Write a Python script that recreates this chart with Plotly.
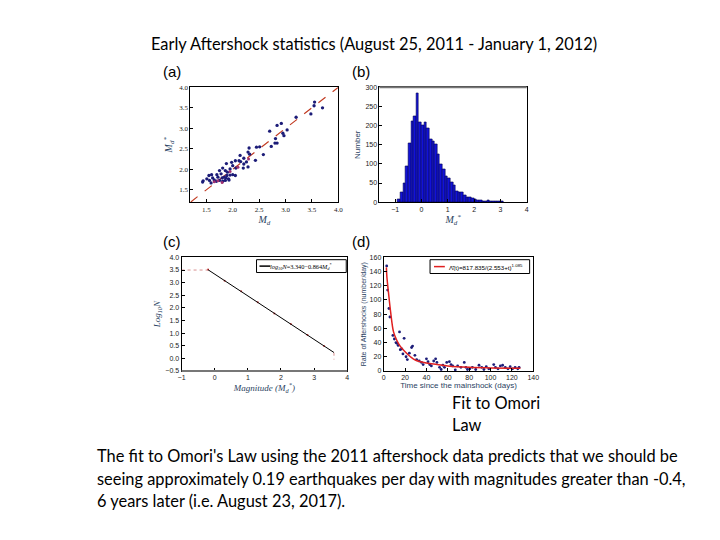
import plotly.graph_objects as go

# ---------------- data ----------------
# (a) Md vs Md*
a_md = [3.55, 3.54, 3.70, 3.48, 3.20, 2.84, 2.92, 3.03, 2.70, 2.95, 2.97, 2.81, 2.84, 2.80, 2.73, 2.45,
        2.51, 2.31, 2.29, 2.58, 2.43, 2.32, 2.14, 2.21, 2.12, 2.05, 2.15, 2.26, 2.21, 2.29, 2.20, 1.98,
        1.88, 2.00, 2.06, 1.95, 1.81, 1.86, 1.90, 1.75, 1.78, 1.70, 1.60, 1.62, 1.72, 1.80, 1.84, 1.89,
        1.95, 2.00, 2.05, 1.92, 1.86, 1.93, 1.75, 1.65, 1.56, 1.51, 1.44, 1.43, 1.59, 1.69, 1.55, 1.81, 1.87]
a_mds = [3.64, 3.55, 3.50, 3.35, 3.27, 3.07, 3.12, 2.96, 2.93, 2.88, 2.82, 2.75, 2.64, 2.64, 2.56, 2.54,
         2.55, 2.52, 2.42, 2.36, 2.22, 2.37, 2.34, 2.27, 2.21, 2.21, 2.19, 2.18, 2.13, 2.06, 2.03, 2.17,
         2.14, 2.09, 2.03, 2.01, 2.03, 1.97, 1.93, 1.97, 1.89, 1.87, 1.87, 1.79, 1.81, 1.79, 1.81, 1.85,
         1.86, 1.87, 1.85, 1.77, 1.73, 1.74, 1.73, 1.74, 1.73, 1.77, 1.72, 1.69, 1.67, 1.71, 1.85, 1.71, 1.79]
a_red_md = [1.65, 1.72, 1.95, 2.10, 2.30, 1.80]
a_red_mds = [1.70, 1.72, 1.95, 2.05, 2.25, 1.68]
a_diag = [1.2, 4.0]

# (b) histogram of Md*
b_bin_left = [-0.9, -0.8, -0.7, -0.6, -0.5, -0.4, -0.3, -0.2, -0.1, 0.0, 0.1, 0.2, 0.3, 0.4, 0.5, 0.6,
              0.7, 0.8, 0.9, 1.0, 1.1, 1.2, 1.3, 1.4, 1.5, 1.6, 1.7, 1.8, 1.9, 2.0, 2.1, 2.2, 2.3, 2.4,
              2.5, 2.6, 2.7, 2.8, 2.9, 3.0]
b_counts = [8, 25, 50, 93, 155, 210, 225, 285, 208, 200, 208, 192, 163, 160, 150, 125,
            100, 85, 68, 62, 53, 45, 28, 27, 27, 17, 12, 14, 9, 8, 6, 4, 3, 2,
            4, 3, 3, 2, 2, 1]

# (c) Gutenberg-Richter fit
c_fit_m = [-0.2, 3.6]
c_fit_logn = [3.51, 0.23]
c_obs_m = [-0.2, 0.3, 0.8, 1.3, 1.8, 2.3, 2.8, 3.3]
c_obs_logn = [3.52, 3.08, 2.66, 2.22, 1.78, 1.36, 0.92, 0.49]
c_dot1_m = [-1.0, -0.2]
c_dot1_logn = [3.5, 3.5]
c_dot2_m = [3.6, 3.6]
c_dot2_logn = [0.22, -0.05]

# (d) Omori law
d_t = [2.8, 3.7, 4.9, 5.8, 8.6, 10.0, 11.5, 12.3, 14.8, 19.1, 26.1, 16.9, 20.9, 22.1, 24.0, 29.2,
       30.8, 33.2, 35.4, 36.9, 40.0, 41.5, 43.1, 44.6, 46.8, 48.6, 49.8, 52.3, 53.8, 55.4, 56.9,
       59.0, 61.5, 63.0, 64.6, 67.0, 69.2, 72.3, 75.4, 76.9, 78.4, 80.6, 83.0, 86.1, 89.2, 91.7,
       93.8, 96.0, 98.4, 103.0, 104.6, 107.0, 109.2, 111.3, 113.8, 116.3, 118.4, 120.6, 123.0,
       125.5, 126.7, 13.5, 15.5, 18.0, 27.0]
d_rate = [148, 114, 88, 76, 50, 45, 40, 39, 55, 46, 33, 31, 20, 16, 25, 22,
          16, 14, 12, 9, 17, 13, 9, 7, 14, 17, 12, 5, 2, 8, 5,
          12, 13, 9, 7, 1.5, 7, 5, 12, 5, 2, 3, 5, 2, 8, 5,
          2, 6, 3, 9, 5, 3, 7, 8, 5, 3, 6, 3, 5,
          3, 5, 36, 30, 24, 35]
d_fit_t = [2.5, 3, 4.3, 6.5, 9.2, 12, 15.4, 20, 25, 30, 40, 50, 60, 80, 100, 128]
d_fit_rate = [146, 132, 113, 83, 55, 44, 35, 27, 20, 15, 11, 9, 7, 5, 4.2, 3.6]

# ---------------- figure ----------------
# the page body adds an 8px margin; the figure is sized/placed to compensate
OFF = 8
W, H = 720 - OFF, 540 - OFF


def P(px):
    return (px - OFF) / W


def Q(py):
    return 1 - (py - OFF) / H


navy = "#1c1c78"
fig = go.Figure()

fig.add_trace(go.Scatter(x=a_diag, y=a_diag, mode="lines", line=dict(color="#c23b22", dash="dash", width=1.2),
                         xaxis="x", yaxis="y", showlegend=False))
fig.add_trace(go.Scatter(x=a_md, y=a_mds, mode="markers", marker=dict(color=navy, size=3.3),
                         xaxis="x", yaxis="y", showlegend=False))
fig.add_trace(go.Scatter(x=a_red_md, y=a_red_mds, mode="markers", marker=dict(color="#a03070", size=3),
                         xaxis="x", yaxis="y", showlegend=False))

fig.add_trace(go.Bar(x=b_bin_left, y=b_counts, width=0.1, offset=0,
                     marker=dict(color="#1212d8", line=dict(color="#000050", width=0.6)),
                     xaxis="x2", yaxis="y2", showlegend=False))

fig.add_trace(go.Scatter(x=c_dot1_m, y=c_dot1_logn, mode="lines", line=dict(color="#d89090", dash="dot", width=1),
                         xaxis="x3", yaxis="y3", showlegend=False))
fig.add_trace(go.Scatter(x=c_dot2_m, y=c_dot2_logn, mode="lines", line=dict(color="#d89090", dash="dot", width=1),
                         xaxis="x3", yaxis="y3", showlegend=False))
fig.add_trace(go.Scatter(x=c_obs_m, y=c_obs_logn, mode="markers", marker=dict(color="#d04040", size=2),
                         xaxis="x3", yaxis="y3", showlegend=False))
fig.add_trace(go.Scatter(x=c_fit_m, y=c_fit_logn, mode="lines", line=dict(color="black", width=1),
                         xaxis="x3", yaxis="y3", showlegend=False))

fig.add_trace(go.Scatter(x=d_t, y=d_rate, mode="markers", marker=dict(color=navy, size=2.8),
                         xaxis="x4", yaxis="y4", showlegend=False))
fig.add_trace(go.Scatter(x=d_fit_t, y=d_fit_rate, mode="lines", line=dict(color="#e02020", width=1.5, shape="spline"),
                         xaxis="x4", yaxis="y4", showlegend=False))

tickfont = dict(size=7, color="#222", family="Liberation Sans")
serif_tick = dict(size=7, color="#222", family="Liberation Serif")
ax_common = dict(showline=True, mirror=True, linecolor="black", linewidth=1, ticks="inside", ticklen=3,
                 tickcolor="black", showgrid=False, zeroline=False)

fig.update_layout(
    width=W, height=H, margin=dict(l=0, r=0, t=0, b=0),
    paper_bgcolor="white", plot_bgcolor="white", bargap=0, showlegend=False,
    xaxis=dict(domain=[P(189), P(339)], anchor="y", range=[1.2, 4.0], tickvals=[1.5, 2.0, 2.5, 3.0, 3.5, 4.0],
               ticktext=["1.5", "2.0", "2.5", "3.0", "3.5", "4.0"], tickfont=serif_tick,
               title=dict(text="<i>M<sub>d</sub></i>", font=dict(size=10, family="Liberation Serif"), standoff=2), **ax_common),
    yaxis=dict(domain=[Q(200.7), Q(84.3)], anchor="x", range=[1.2, 4.0], tickvals=[1.5, 2.0, 2.5, 3.0, 3.5, 4.0],
               ticktext=["1.5", "2.0", "2.5", "3.0", "3.5", "4.0"], tickfont=serif_tick,
               title=dict(text="<i>M<sub>d</sub><sup>*</sup></i>", font=dict(size=10, family="Liberation Serif"), standoff=4), **ax_common),
    xaxis2=dict(domain=[P(380.7), P(530)], anchor="y2", range=[-1.6, 4.0], tickvals=[-1, 0, 1, 2, 3, 4], tickfont=tickfont,
                title=dict(text="<i>M<sub>d</sub><sup>*</sup></i>", font=dict(size=10, family="Liberation Serif"), standoff=2), **ax_common),
    yaxis2=dict(domain=[Q(200.7), Q(84.3)], anchor="x2", range=[0, 300], tickvals=[0, 50, 100, 150, 200, 250, 300], tickfont=tickfont,
                title=dict(text="Number", font=dict(size=8, family="Liberation Sans"), standoff=3), **ax_common),
    xaxis3=dict(domain=[P(180), P(348)], anchor="y3", range=[-1, 4], tickvals=[-1, 0, 1, 2, 3, 4], tickfont=tickfont,
                title=dict(text="<i>Magnitude (M<sub>d</sub><sup>*</sup>)</i>", font=dict(size=9, family="Liberation Serif"), standoff=2), **ax_common),
    yaxis3=dict(domain=[Q(371.7), Q(256.7)], anchor="x3", range=[-0.5, 4.0], dtick=0.5, tickformat=".1f", tickfont=tickfont,
                title=dict(text="<i>Log<sub>10</sub>N</i>", font=dict(size=9, family="Liberation Serif"), standoff=3), **ax_common),
    xaxis4=dict(domain=[P(385), P(536.7)], anchor="y4", range=[0, 140], dtick=20, tickfont=tickfont,
                title=dict(text="Time since the mainshock (days)", font=dict(size=8, family="Liberation Sans"), standoff=2), **ax_common),
    yaxis4=dict(domain=[Q(371.7), Q(256.7)], anchor="x4", range=[0, 160], dtick=20, tickfont=tickfont,
                title=dict(text="Rate of Aftershocks (number/day)", font=dict(size=7, family="Liberation Sans"), standoff=2), **ax_common),
)

# thick grey frame edges seen in the reference ((b) top, (c) bottom)
fig.add_shape(type="line", xref="paper", yref="paper", x0=P(380.7), x1=P(530), y0=Q(84.3), y1=Q(84.3),
              line=dict(color="#777", width=2))
fig.add_shape(type="line", xref="paper", yref="paper", x0=P(180), x1=P(348), y0=Q(371.7), y1=Q(371.7),
              line=dict(color="#777", width=2))

# legend boxes drawn as shapes + text
fig.add_shape(type="rect", xref="paper", yref="paper", x0=P(256), x1=P(347), y0=Q(272), y1=Q(259),
              line=dict(color="black", width=1), fillcolor="white")
fig.add_shape(type="line", xref="paper", yref="paper", x0=P(259), x1=P(270), y0=Q(265.5), y1=Q(265.5),
              line=dict(color="black", width=1.5))
fig.add_shape(type="rect", xref="paper", yref="paper", x0=P(432), x1=P(533), y0=Q(273), y1=Q(259),
              line=dict(color="black", width=1), fillcolor="white")
fig.add_shape(type="line", xref="paper", yref="paper", x0=P(436), x1=P(447), y0=Q(266), y1=Q(266),
              line=dict(color="#e02020", width=1.5))

body_font = dict(family="Lato", size=16.4, color="black")
lab_font = dict(family="Liberation Sans", size=15, color="black")
annots = [
    dict(text="Early Aftershock statistics (August 25, 2011 - January 1, 2012)", x=P(375), y=Q(40), xanchor="center",
         yanchor="middle", font=body_font),
    dict(text="(a)", x=P(159), y=Q(68), xanchor="left", yanchor="middle", font=lab_font),
    dict(text="(b)", x=P(351), y=Q(68), xanchor="left", yanchor="middle", font=lab_font),
    dict(text="(c)", x=P(159), y=Q(241), xanchor="left", yanchor="middle", font=lab_font),
    dict(text="(d)", x=P(351), y=Q(241), xanchor="left", yanchor="middle", font=lab_font),
    dict(text="<i>log<sub>10</sub>N</i>=3.340−0.864<i>M<sub>d</sub></i><sup>*</sup>", x=P(301.5), y=Q(265.5),
         xanchor="center", yanchor="middle", font=dict(family="Liberation Serif", size=6.3, color="black")),
    dict(text="Λ̂(t)=817.835/(2.553+t)<sup>1.085</sup>", x=P(489), y=Q(266),
         xanchor="center", yanchor="middle", font=dict(family="Liberation Sans", size=6.2, color="black")),
    dict(text="Fit to Omori", x=P(452), y=Q(404), xanchor="left", yanchor="middle", font=body_font),
    dict(text="Law", x=P(452), y=Q(426), xanchor="left", yanchor="middle", font=body_font),
    dict(text="The fit to Omori's Law using the 2011 aftershock data predicts that we should be", x=P(92), y=Q(457),
         xanchor="left", yanchor="middle", font=body_font),
    dict(text="seeing approximately 0.19 earthquakes per day with magnitudes greater than -0.4,", x=P(92), y=Q(481),
         xanchor="left", yanchor="middle", font=body_font),
    dict(text="6 years later (i.e. August 23, 2017).", x=P(92), y=Q(503),
         xanchor="left", yanchor="middle", font=body_font),
]
for a in annots:
    fig.add_annotation(xref="paper", yref="paper", showarrow=False, **a)

fig.write_html("out.html")
